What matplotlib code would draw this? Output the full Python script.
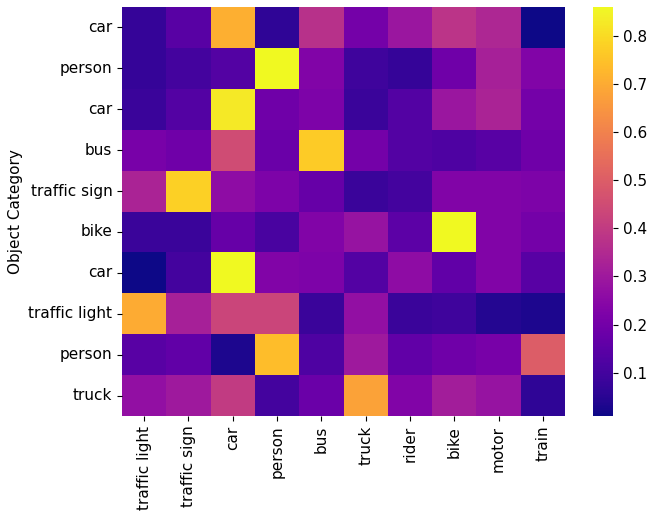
import numpy as np
import matplotlib
matplotlib.use("Agg")
import matplotlib.pyplot as plt
import seaborn as sns

filas = ["car", "person", "car", "bus", "traffic sign", "bike", "car",
         "traffic light", "person", "truck"]
columnas = ["traffic light", "traffic sign", "car", "person", "bus", "truck",
            "rider", "bike", "motor", "train"]

valores = np.array([
    [0.07, 0.14, 0.71, 0.06, 0.37, 0.20, 0.29, 0.38, 0.34, 0.01],
    [0.07, 0.10, 0.13, 0.86, 0.23, 0.09, 0.07, 0.19, 0.32, 0.23],
    [0.08, 0.13, 0.83, 0.19, 0.22, 0.08, 0.13, 0.29, 0.33, 0.20],
    [0.21, 0.19, 0.45, 0.18, 0.77, 0.20, 0.13, 0.12, 0.14, 0.19],
    [0.33, 0.78, 0.26, 0.22, 0.17, 0.08, 0.10, 0.23, 0.23, 0.22],
    [0.08, 0.08, 0.17, 0.11, 0.23, 0.28, 0.15, 0.86, 0.23, 0.20],
    [0.01, 0.10, 0.86, 0.23, 0.22, 0.13, 0.26, 0.16, 0.23, 0.14],
    [0.70, 0.32, 0.43, 0.43, 0.08, 0.27, 0.08, 0.09, 0.04, 0.03],
    [0.14, 0.16, 0.03, 0.74, 0.12, 0.30, 0.16, 0.19, 0.21, 0.50],
    [0.27, 0.30, 0.40, 0.10, 0.18, 0.68, 0.23, 0.31, 0.28, 0.06],
])

plt.rcParams['font.size'] = 11

fig = plt.figure(figsize=(6.49, 5.12), dpi=100)
ax = fig.add_axes([0.188, 0.1875, 0.6826, 0.7988])
cax = fig.add_axes([0.9137, 0.1875, 0.0308, 0.7988])
sns.heatmap(valores, cmap="plasma", xticklabels=columnas, yticklabels=filas,
            ax=ax, cbar_ax=cax)
ax.set_ylabel("Object Category")
ax.tick_params(axis='x', rotation=90)
ax.tick_params(axis='y', rotation=0)
plt.savefig("out.png", dpi=100)
